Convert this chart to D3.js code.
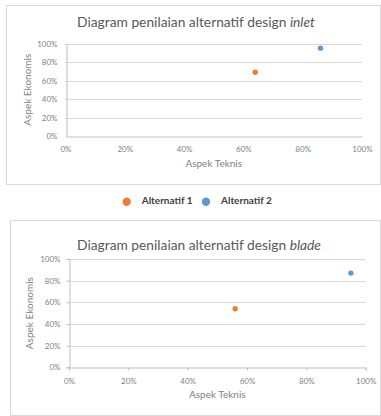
<!DOCTYPE html>
<html><head><meta charset="utf-8">
<script src="https://cdn.jsdelivr.net/npm/d3@7"></script>
<style>
html,body{margin:0;padding:0;background:#fff;}
svg{display:block;font-family:Lato,"Liberation Sans",sans-serif;}
</style></head>
<body>
<svg id="chart" width="381" height="416"></svg>
<script>
// ---- data ----
const seriesNames = ["Alternatif 1", "Alternatif 2"];
const seriesColors = ["#ED7D31", "#5B9BD5"];
const inletTeknis = [0.64, 0.86];
const inletEkonomis = [0.69, 0.95];
const bladeTeknis = [0.56, 0.95];
const bladeEkonomis = [0.54, 0.87];
const tickValues = [0, 0.2, 0.4, 0.6, 0.8, 1.0];
const xTitle = "Aspek Teknis";
const yTitle = "Aspek Ekonomis";

const svg = d3.select("#chart");
const fmt = d => Math.round(d * 100) + "%";

function drawChart(cfg) {
  const g = svg.append("g");
  g.append("rect").attr("x", cfg.frame[0]).attr("y", cfg.frame[1])
    .attr("width", cfg.frame[2] - cfg.frame[0]).attr("height", cfg.frame[3] - cfg.frame[1])
    .attr("fill", "#fff").attr("stroke", "#d9d9d9").attr("stroke-width", 1);

  const x = d3.scaleLinear().domain([0, 1]).range([cfg.plot[0], cfg.plot[2]]);
  const y = d3.scaleLinear().domain([0, 1]).range([cfg.plot[3], cfg.plot[1]]);

  // gridlines
  g.append("g").selectAll("line").data(tickValues.slice(1)).join("line")
    .attr("x1", cfg.plot[0]).attr("x2", cfg.plot[2])
    .attr("y1", d => Math.round(y(d)) + 0.5).attr("y2", d => Math.round(y(d)) + 0.5)
    .attr("stroke", "#d9d9d9").attr("stroke-width", 1);

  // x axis
  const xa = g.append("g").attr("transform", `translate(0,${Math.round(cfg.plot[3]) + 0.5})`)
    .call(d3.axisBottom(x).tickValues(tickValues).tickFormat(fmt).tickSize(cfg.xTick).tickPadding(cfg.xPad));
  xa.select(".domain").attr("stroke", "#bfbfbf");
  xa.selectAll(".tick line").attr("stroke", "#bfbfbf");
  xa.selectAll("text").attr("fill", "#7f7f7f").style("font-size", "8px").style("font-family", "Lato,sans-serif");

  // y axis
  const ya = g.append("g").attr("transform", `translate(${Math.round(cfg.plot[0]) + 0.5},0)`)
    .call(d3.axisLeft(y).tickValues(tickValues).tickFormat(fmt).tickSize(cfg.yTick).tickPadding(cfg.yPad));
  ya.select(".domain").attr("stroke", "#bfbfbf");
  ya.selectAll(".tick line").attr("stroke", "#bfbfbf");
  ya.selectAll("text").attr("fill", "#7f7f7f").style("font-size", "8px").style("font-family", "Lato,sans-serif");

  // title
  const t = g.append("text").attr("x", (cfg.titleX[0] + cfg.titleX[1]) / 2).attr("y", cfg.titleY)
    .attr("text-anchor", "middle").attr("dominant-baseline", "middle")
    .attr("fill", "#595959").style("font-size", "13px");
  t.append("tspan").text("Diagram penilaian alternatif design ");
  t.append("tspan").attr("font-style", "italic").text(cfg.italic);
  const w = t.node().getComputedTextLength();
  t.style("font-size", (13 * (cfg.titleX[1] - cfg.titleX[0]) / w).toFixed(2) + "px");

  // axis titles
  g.append("text").attr("x", (cfg.plot[0] + cfg.plot[2]) / 2).attr("y", cfg.xTitleY)
    .attr("text-anchor", "middle").attr("dominant-baseline", "middle")
    .attr("fill", "#7f7f7f").style("font-size", "10px").text(xTitle);
  g.append("text").attr("transform", `translate(${cfg.yTitleX},${(cfg.plot[1] + cfg.plot[3]) / 2}) rotate(-90)`)
    .attr("text-anchor", "middle").attr("dominant-baseline", "middle")
    .attr("fill", "#7f7f7f").style("font-size", "10px").text(yTitle);

  // points
  const pts = seriesNames.map((n, i) => ({ n, i, xv: cfg.xs[i], yv: cfg.ys[i] }));
  g.append("g").selectAll("circle").data(pts).join("circle")
    .attr("cx", d => x(d.xv)).attr("cy", d => y(d.yv)).attr("r", 2.7)
    .attr("fill", d => seriesColors[d.i]);
}

drawChart({
  frame: [6.5, 5.5, 380.5, 184.5],
  plot: [65.5, 43.5, 362, 136],
  xTick: 0, xPad: 10, yTick: 0, yPad: 9,
  titleX: [77, 315], titleY: 23, italic: "inlet",
  xTitleY: 164, yTitleX: 28,
  xs: inletTeknis, ys: inletEkonomis
});

drawChart({
  frame: [10.5, 220.5, 380.5, 415.5],
  plot: [69, 259, 365.7, 367.3],
  xTick: 3, xPad: 8, yTick: 3, yPad: 6,
  titleX: [77, 321], titleY: 247, italic: "blade",
  xTitleY: 395, yTitleX: 30.7,
  xs: bladeTeknis, ys: bladeEkonomis
});

// legend
const legendX = [126.7, 206];
const lg = svg.append("g");
const items = lg.selectAll("g").data(seriesNames).join("g")
  .attr("transform", (d, i) => `translate(${legendX[i]},201.7)`);
items.append("circle").attr("r", 4.2).attr("fill", (d, i) => seriesColors[i]);
items.append("text").attr("x", 15).attr("dominant-baseline", "middle")
  .attr("fill", "#404040").style("font-size", "10px").style("font-weight", "bold").text(d => d);
</script>
</body></html>
